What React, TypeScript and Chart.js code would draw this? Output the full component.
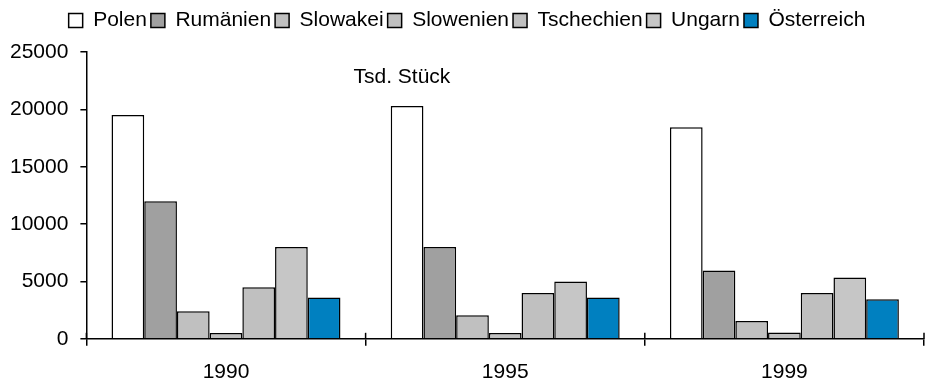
import React, { useEffect, useRef } from "react";
import { Chart, registerables } from "chart.js";

Chart.register(...registerables);

const years = ["1990", "1995", "1999"];
const countries = ["Polen", "Rumänien", "Slowakei", "Slowenien", "Tschechien", "Ungarn", "Österreich"];
const polen = [19500, 20300, 18450];
const rumaenien = [12000, 8000, 5950];
const slowakei = [2400, 2050, 1550];
const slowenien = [500, 500, 550];
const tschechien = [4500, 4000, 4000];
const ungarn = [8000, 5000, 5350];
const oesterreich = [3600, 3600, 3450];
const seriesValues = [polen, rumaenien, slowakei, slowenien, tschechien, ungarn, oesterreich];
const seriesColors = ["#ffffff", "#a0a0a0", "#c0c0c0", "#c0c0c0", "#c0c0c0", "#c6c6c6", "#0080c0"];
const unitLabel = "Tsd. Stück";

const FONT = "'Liberation Sans', Arial, sans-serif";
const FS = 21;

const unitPlugin = {
  id: "unitLabel",
  beforeInit(chart: any) {
    const lg = chart.legend;
    if (lg && !lg.__patched) {
      const fit = lg.fit;
      lg.fit = function () {
        fit.call(this);
        this.height += 11;
      };
      lg.__patched = true;
    }
  },
  afterDraw(chart: any) {
    const { ctx, scales } = chart;
    const xs = scales.x;
    // inner half of the category separator ticks (they cross the axis line)
    ctx.save();
    ctx.strokeStyle = "#000";
    ctx.lineWidth = 1.5;
    const axisY = xs.top;
    for (let i = 0; i <= years.length; i++) {
      const px = xs.getPixelForValue(i - 0.5);
      ctx.beginPath();
      ctx.moveTo(px, axisY - 6);
      ctx.lineTo(px, axisY);
      ctx.stroke();
    }
    ctx.restore();

    const x = xs.getPixelForValue(0.63);
    const y = scales.y.getPixelForValue(22800);
    ctx.save();
    ctx.font = `${FS}px ${FONT}`;
    ctx.fillStyle = "#000";
    ctx.textAlign = "center";
    ctx.textBaseline = "middle";
    ctx.fillText(unitLabel, x, y);
    ctx.restore();
  },
};

export default function App() {
  const ref = useRef<HTMLCanvasElement | null>(null);
  useEffect(() => {
    if (!ref.current) return;
    const chart = new Chart(ref.current, {
      type: "bar",
      data: {
        labels: years,
        datasets: countries.map((c, i) => ({
          label: c,
          data: seriesValues[i],
          backgroundColor: seriesColors[i],
          borderColor: "#000",
          borderWidth: 1.5,
          categoryPercentage: 0.82,
          barPercentage: 1.0,
        })),
      },
      options: {
        responsive: false,
        animation: false,
        layout: { padding: { top: 6, left: 10, right: 1, bottom: 2 } },
        plugins: {
          legend: {
            position: "top",
            labels: {
              boxWidth: 14,
              boxHeight: 14,
              padding: 4,
              color: "#000",
              font: { family: FONT, size: FS },
            },
          },
          tooltip: { enabled: false },
        },
        scales: {
          x: {
            offset: true,
            afterFit: (s: any) => {
              s.height = s.height - 14;
            },
            grid: {
              offset: true,
              drawOnChartArea: false,
              drawTicks: true,
              tickLength: 7,
              color: "#000",
              lineWidth: 1.5,
            },
            border: { color: "#000", width: 1.5 },
            ticks: { color: "#000", padding: 14, font: { family: FONT, size: FS } },
          },
          y: {
            min: 0,
            max: 25000,
            afterFit: (s: any) => {
              s.width = s.width - 12;
            },
            ticks: {
              stepSize: 5000,
              color: "#000",
              padding: 12,
              font: { family: FONT, size: FS },
              callback: (v: any) => String(v),
            },
            grid: {
              drawOnChartArea: false,
              drawTicks: true,
              tickLength: 6,
              color: "#000",
              lineWidth: 1.5,
            },
            border: { color: "#000", width: 1.5 },
          },
        },
      },
      plugins: [unitPlugin],
    });
    return () => chart.destroy();
  }, []);
  return (
    <div style={{ position: "fixed", left: 0, top: 0, width: 925, height: 387, background: "#fff" }}>
      <canvas ref={ref} width={925} height={387} style={{ display: "block" }} />
    </div>
  );
}
